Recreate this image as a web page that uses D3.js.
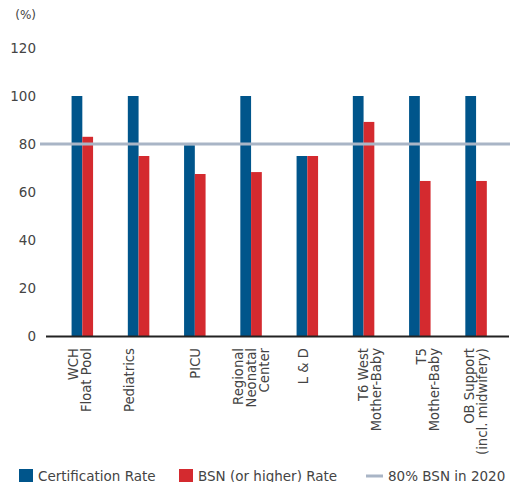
<!DOCTYPE html>
<html>
<head>
<meta charset="utf-8">
<script src="https://cdn.jsdelivr.net/npm/d3@7"></script>
<style>
  html, body { margin: 0; padding: 0; background: #fff; }
  svg { display: block; font-family: "DejaVu Sans", sans-serif; }
</style>
</head>
<body>
<svg id="chart" width="520" height="482"></svg>
<script>
// Units, one entry per group; each label is split into its display lines
const units = [
  ["WCH", "Float Pool"],
  ["Pediatrics"],
  ["PICU"],
  ["Regional", "Neonatal", "Center"],
  ["L & D"],
  ["T6 West", "Mother-Baby"],
  ["T5", "Mother-Baby"],
  ["OB Support", "(incl. midwifery)"]
];
const certificationRate = [100, 100, 79.5, 100, 75, 100, 100, 100];
const bsnRate = [83, 75, 67.5, 68.3, 75, 89.2, 64.6, 64.6];
const bsnGoal = 80;
const yTicks = [0, 20, 40, 60, 80, 100, 120];
const seriesNames = ["Certification Rate", "BSN (or higher) Rate"];
const goalName = "80% BSN in 2020";

const colors = { cert: "#00558b", bsn: "#d42a2f", goal: "#a9b5c6", axis: "#222", text: "#444" };

const svg = d3.select("#chart");
const keys = units.map(u => u.join(" "));

const x = d3.scaleBand().domain(keys).range([54.2, 504.2]);
const sub = d3.scaleBand().domain(["cert", "bsn"]).range([-10.75, 10.75]);
const y = d3.scaleLinear().domain([0, 120]).range([336, 48]);

const center = k => x(k) + x.bandwidth() / 2;

// y tick labels (no axis line)
const yAxis = d3.axisLeft(y).tickValues(yTicks).tickSize(0).tickPadding(0);
const gy = svg.append("g").attr("transform", "translate(36,0)").call(yAxis);
gy.select(".domain").remove();
gy.selectAll("text").attr("font-size", 13.5).attr("fill", colors.text)
  .attr("font-family", "DejaVu Sans, sans-serif");

svg.append("text").attr("x", 36).attr("y", 19).attr("text-anchor", "end")
  .attr("font-size", 12).attr("fill", colors.text).text("(%)");

// bars
const rows = keys.map((k, i) => ({ key: k, cert: certificationRate[i], bsn: bsnRate[i] }));
const groups = svg.append("g").selectAll("g").data(rows).join("g")
  .attr("transform", d => `translate(${center(d.key)},0)`);
groups.selectAll("rect")
  .data(d => ["cert", "bsn"].map(s => ({ s, v: d[s] })))
  .join("rect")
  .attr("x", d => sub(d.s))
  .attr("width", sub.bandwidth())
  .attr("y", d => y(d.v))
  .attr("height", d => y(0) - y(d.v))
  .attr("fill", d => colors[d.s]);

// goal line
svg.append("line")
  .attr("x1", 40).attr("x2", 510)
  .attr("y1", y(bsnGoal)).attr("y2", y(bsnGoal))
  .attr("stroke", colors.goal).attr("stroke-width", 3);

// baseline
svg.append("line")
  .attr("x1", 46).attr("x2", 509)
  .attr("y1", y(0) + 0.5).attr("y2", y(0) + 0.5)
  .attr("stroke", colors.axis).attr("stroke-width", 2);

// category labels, rotated, lines stacked left to right
const labelShift = [-2.5, -9, 0, 0, -4.5, 6, 7.5, 0];
const lineGap = 13;
const lab = svg.append("g").selectAll("text").data(units).join("text")
  .attr("transform", (d, i) => `translate(${center(keys[i]) + labelShift[i]},348) rotate(-90)`)
  .attr("text-anchor", "end")
  .attr("font-size", 13.2)
  .attr("fill", colors.text);
lab.each(function(lines) {
  const t = d3.select(this);
  const n = lines.length;
  lines.forEach((line, j) => {
    t.append("tspan").attr("x", 0)
      .attr("y", (j - (n - 1) / 2) * lineGap + 4.8)
      .text(line);
  });
});

// legend
const leg = svg.append("g").attr("font-size", 13.5).attr("fill", colors.text);
leg.append("rect").attr("x", 19).attr("y", 469).attr("width", 14).attr("height", 13).attr("fill", colors.cert);
leg.append("text").attr("x", 38).attr("y", 480.5).text(seriesNames[0]);
leg.append("rect").attr("x", 179).attr("y", 469).attr("width", 14).attr("height", 13).attr("fill", colors.bsn);
leg.append("text").attr("x", 198).attr("y", 480.5).text(seriesNames[1]);
leg.append("line").attr("x1", 366).attr("x2", 383).attr("y1", 476).attr("y2", 476)
  .attr("stroke", colors.goal).attr("stroke-width", 3);
leg.append("text").attr("x", 388).attr("y", 480.5).text(goalName);
</script>
</body>
</html>
